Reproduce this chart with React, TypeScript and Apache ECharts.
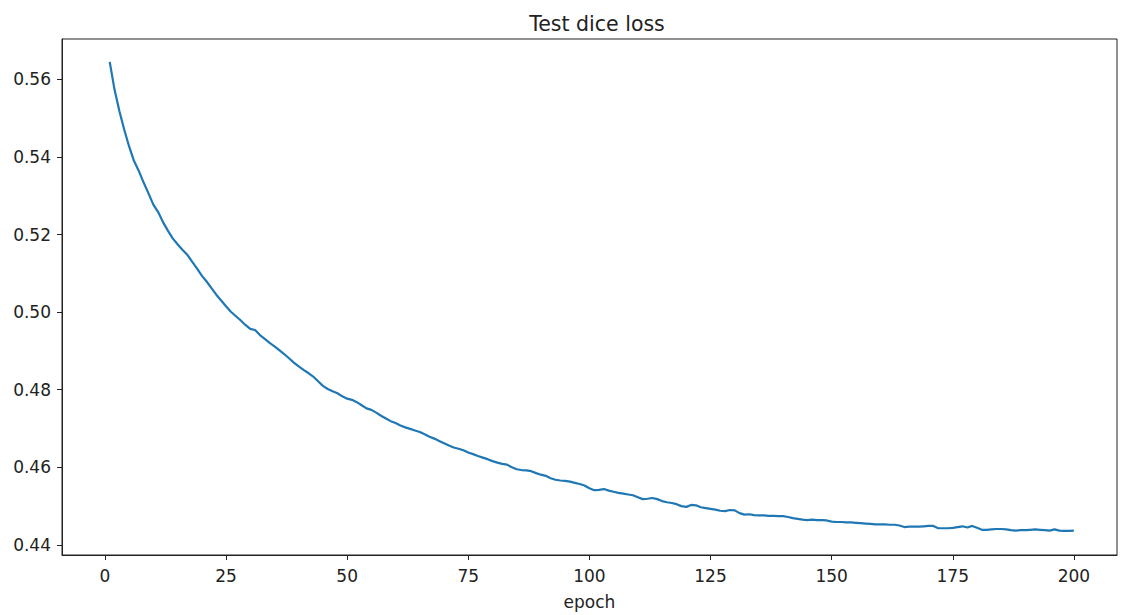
import React, { useEffect, useRef } from "react";
import * as echarts from "echarts";

const TITLE = "Test dice loss";
const X_NAME = "epoch";
const X_TICKS = [0, 25, 50, 75, 100, 125, 150, 175, 200];
const Y_TICKS = [0.44, 0.46, 0.48, 0.5, 0.52, 0.54, 0.56];

const LOSS = [
  0.5645, 0.5573, 0.5518, 0.547, 0.5427, 0.539, 0.5364, 0.5334, 0.5306, 0.5277,
  0.5258, 0.5232, 0.521, 0.519, 0.5175, 0.5161, 0.5148, 0.513, 0.5113, 0.5094,
  0.5079, 0.5062, 0.5045, 0.503, 0.5015, 0.5001, 0.499, 0.4979, 0.4967, 0.4957,
  0.4954, 0.4941, 0.4931, 0.4921, 0.4912, 0.4902, 0.4892, 0.4881, 0.487, 0.486,
  0.4851, 0.4843, 0.4834, 0.4822, 0.481, 0.4802, 0.4796, 0.4791, 0.4783, 0.4777,
  0.4774, 0.4768, 0.476, 0.4752, 0.4748, 0.4741, 0.4733, 0.4726, 0.4719, 0.4714,
  0.4708, 0.4703, 0.4699, 0.4695, 0.4691, 0.4685, 0.4679, 0.4674, 0.4668, 0.4662,
  0.4656, 0.4651, 0.4648, 0.4644, 0.4638, 0.4634, 0.4629, 0.4625, 0.4621, 0.4616,
  0.4612, 0.4609, 0.4607, 0.46, 0.4595, 0.4593, 0.4592, 0.459, 0.4585, 0.4581,
  0.4578, 0.4572, 0.4568, 0.4566, 0.4565, 0.4563, 0.456, 0.4557, 0.4553, 0.4546,
  0.4541, 0.4542, 0.4544, 0.454, 0.4537, 0.4534, 0.4532, 0.453, 0.4528, 0.4523,
  0.4518, 0.4519, 0.4521, 0.4518, 0.4513, 0.451, 0.4508, 0.4505, 0.45, 0.4498,
  0.4503, 0.4502, 0.4497, 0.4495, 0.4493, 0.4491, 0.4488, 0.4487, 0.449, 0.4489,
  0.4482, 0.4478, 0.4479, 0.4477, 0.4476, 0.4476, 0.4475, 0.4475, 0.4474, 0.4474,
  0.4472, 0.4469, 0.4467, 0.4465, 0.4464, 0.4465, 0.4464, 0.4464, 0.4463, 0.446,
  0.4459, 0.4459, 0.4458, 0.4458, 0.4457, 0.4456, 0.4455, 0.4454, 0.4453, 0.4453,
  0.4453, 0.4452, 0.4452, 0.445, 0.4446, 0.4447, 0.4447, 0.4447, 0.4448, 0.4449,
  0.4449, 0.4443, 0.4443, 0.4443, 0.4444, 0.4446, 0.4448, 0.4445, 0.4449, 0.4444,
  0.4439, 0.4439, 0.444, 0.4441, 0.4441, 0.444, 0.4438, 0.4437, 0.4438, 0.4438,
  0.4439, 0.444, 0.4439, 0.4438, 0.4437, 0.444, 0.4437, 0.4436, 0.4436, 0.4437,
];
const EPOCHS = LOSS.map((_, i) => i + 1);

const FONT = "DejaVu Sans";

export default function App() {
  const ref = useRef<HTMLDivElement>(null);
  useEffect(() => {
    document.body.style.margin = "0";
    const chart = echarts.init(ref.current!, undefined, { renderer: "svg" });
    chart.setOption({
      animation: false,
      backgroundColor: "#fff",
      title: {
        text: TITLE,
        left: 592,
        textAlign: "center",
        top: 8,
        textStyle: { fontFamily: FONT, fontSize: 20.5, fontWeight: "normal", color: "#222" },
      },
      grid: {
        left: 62,
        right: 5,
        top: 39,
        bottom: 57,
        show: true,
        borderColor: "#222",
        borderWidth: 1,
        backgroundColor: "#fff",
      },
      xAxis: {
        type: "value",
        min: -8.85,
        max: 208.9,
        name: X_NAME,
        nameLocation: "middle",
        nameGap: 38,
        nameTextStyle: { fontFamily: FONT, fontSize: 17, color: "#222" },
        splitLine: { show: false },
        axisLine: { show: true, onZero: false, lineStyle: { color: "#222", width: 1 } },
        axisTick: { show: true, length: 5, customValues: X_TICKS, lineStyle: { color: "#222" } },
        axisLabel: {
          customValues: X_TICKS,
          margin: 12,
          fontFamily: FONT,
          fontSize: 17,
          color: "#222",
        },
      },
      yAxis: {
        type: "value",
        min: 0.4374,
        max: 0.5704,
        splitLine: { show: false },
        axisLine: { show: true, onZero: false, lineStyle: { color: "#222", width: 1 } },
        axisTick: { show: true, length: 5, customValues: Y_TICKS, lineStyle: { color: "#222" } },
        axisLabel: {
          customValues: Y_TICKS,
          margin: 11,
          fontFamily: FONT,
          fontSize: 17,
          color: "#222",
          formatter: (v: number) => v.toFixed(2),
        },
      },
      series: [
        {
          type: "line",
          data: EPOCHS.map((e, i) => [e, LOSS[i]]),
          showSymbol: false,
          symbol: "none",
          lineStyle: { color: "#1f77b4", width: 2.2 },
          emphasis: { disabled: true },
        },
      ],
    });
    return () => chart.dispose();
  }, []);
  return <div ref={ref} style={{ width: 1122, height: 615 }} />;
}
